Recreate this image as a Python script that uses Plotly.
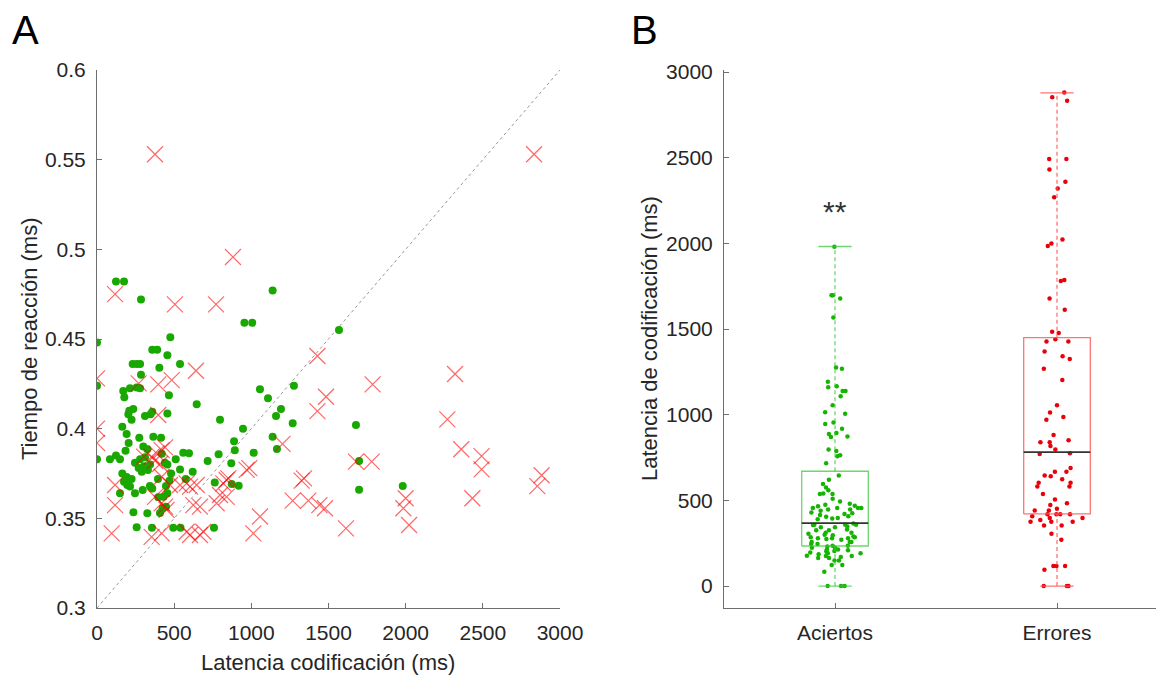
import plotly.graph_objects as go

# ---------------- Panel A data ----------------
# Aciertos (green dots): latency (ms), reaction time
hit_latency = [123, 175, 285, 1138, 955, 1006, 0, 475, 358, 390, 456, 231, 257, 279, 538, 404, 285, 0,
               1056, 170, 214, 257, 279, 177, 466, 1108, 646, 209, 235, 203, 311, 347, 358, 456, 797,
               1192, 1160, 224, 164, 946, 192, 274, 365, 205, 300, 326, 1138, 888, 893, 1166, 185, 0,
               84, 123, 149, 279, 311, 559, 596, 788, 1015, 246, 270, 290, 305, 330, 344, 456, 538,
               717, 870, 164, 192, 224, 175, 196, 214, 149, 246, 296, 343, 358, 469, 447, 456, 397,
               408, 425, 873, 918, 236, 326, 257, 356, 494, 541, 758, 447, 1568, 1276, 1268, 1678,
               1698, 1698, 1981, 763, 420, 440, 395, 430, 480, 510, 620, 575, 415]
hit_rt = [0.482, 0.482, 0.472, 0.477, 0.459, 0.459, 0.448, 0.451, 0.444, 0.444, 0.441, 0.436, 0.436,
          0.436, 0.436, 0.434, 0.430, 0.424, 0.422, 0.421, 0.4225, 0.423, 0.4225, 0.4175, 0.4186,
          0.417, 0.4136, 0.410, 0.411, 0.408, 0.407, 0.408, 0.4095, 0.4085, 0.405, 0.411, 0.407,
          0.405, 0.401, 0.400, 0.397, 0.395, 0.3955, 0.392, 0.390, 0.3885, 0.3955, 0.393, 0.388,
          0.3886, 0.3877, 0.383, 0.383, 0.385, 0.383, 0.383, 0.384, 0.3866, 0.3863, 0.3857, 0.3866,
          0.381, 0.378, 0.376, 0.379, 0.377, 0.380, 0.380, 0.3773, 0.382, 0.3807, 0.375, 0.373,
          0.372, 0.3704, 0.3686, 0.3677, 0.364, 0.364, 0.3658, 0.368, 0.3667, 0.371, 0.368, 0.364,
          0.3617, 0.353, 0.3556, 0.3692, 0.3682, 0.3534, 0.3528, 0.345, 0.3448, 0.3448, 0.3448,
          0.3448, 0.3565, 0.455, 0.424, 0.403, 0.402, 0.382, 0.366, 0.368, 0.370, 0.386, 0.381,
          0.372, 0.362, 0.375, 0.383, 0.376, 0.372, 0.395]

# Errores (red crosses): latency (ms), reaction time
err_latency = [376, 2832, 881, 117, 505, 771, 0, 270, 397, 484, 641, 1428, 1786, 1484, 1428, 2320,
               2270, 2360, 2492, 2492, 2881, 2853, 2432, 2000, 1985, 2022, 1202, 1341, 1326, 1268,
               1369, 1441, 1477, 1613, 1678, 1780, 0, 0, 397, 305, 354, 386, 419, 441, 376, 408, 117,
               117, 95, 376, 419, 441, 451, 419, 473, 538, 581, 603, 646, 624, 667, 354, 419, 581,
               603, 667, 987, 970, 840, 818, 851, 797, 840, 775, 1056, 1013, 689]
err_rt = [0.553, 0.553, 0.4957, 0.475, 0.4693, 0.4693, 0.428, 0.4253, 0.4247, 0.4271, 0.4323, 0.4405,
          0.4247, 0.4178, 0.4098, 0.4305, 0.4052, 0.3885, 0.3847, 0.3773, 0.374, 0.368, 0.3612,
          0.3612, 0.3556, 0.3463, 0.3915, 0.3723, 0.371, 0.3599, 0.3599, 0.3574, 0.3556, 0.3444,
          0.3816, 0.3816, 0.400, 0.392, 0.4076, 0.3844, 0.3844, 0.3862, 0.388, 0.3896, 0.3821,
          0.3803, 0.3686, 0.3574, 0.3416, 0.362, 0.3584, 0.3565, 0.3547, 0.3732, 0.3686, 0.3686,
          0.3695, 0.3677, 0.3686, 0.3574, 0.3565, 0.3397, 0.3416, 0.3425, 0.3407, 0.3407, 0.378,
          0.377, 0.3714, 0.3695, 0.3723, 0.363, 0.362, 0.3584, 0.351, 0.3416, 0.3425]

xa_range = [0, 3000]
ya_range = [0.3, 0.6]
xa_ticks = [0, 500, 1000, 1500, 2000, 2500, 3000]
ya_ticks = [0.3, 0.35, 0.4, 0.45, 0.5, 0.55, 0.6]
ya_ticktext = ["0.3", "0.35", "0.4", "0.45", "0.5", "0.55", "0.6"]

# ---------------- Panel B data ----------------
groups = ["Aciertos", "Errores"]
group_pos = [1, 2]
box_q1 = [234, 421]
box_median = [367, 782]
box_q3 = [670, 1450]
box_low = [0, 0]
box_high = [1982, 2878]
yb_ticks = [0, 500, 1000, 1500, 2000, 2500, 3000]
signif_label = "**"
signif_y = 2185

GREEN = "#18a800"
RED_X = "rgba(255,0,0,0.6)"
GREEN_B = "#14b400"
RED_B = "#e8000a"
BOX_GREEN = "rgba(60,200,60,0.75)"
BOX_RED = "rgba(255,90,90,0.85)"
AXIS = "#6e6e6e"
TXT = "#262626"
FONT = "Liberation Sans, Arial, sans-serif"

# page has an 8px body margin: figure is sized/positioned to compensate
OFF = 8
W, H = 1164 - OFF, 678 - OFF


def px(x):
    return (x - OFF) / W


def py(y):
    return 1 - (y - OFF) / H


fig = go.Figure()

# Panel A
fig.add_trace(go.Scatter(x=xa_range, y=ya_range, mode="lines",
                         line=dict(color="#8a8a8a", width=0.9, dash="3px,3px"),
                         xaxis="x", yaxis="y", showlegend=False, hoverinfo="skip"))
fig.add_trace(go.Scatter(x=hit_latency, y=hit_rt, mode="markers",
                         marker=dict(color=GREEN, size=8, line=dict(width=0)),
                         xaxis="x", yaxis="y", showlegend=False))
fig.add_trace(go.Scatter(x=err_latency, y=err_rt, mode="markers",
                         marker=dict(symbol="x-thin", size=16, color=RED_X,
                                     line=dict(color=RED_X, width=1.2)),
                         xaxis="x", yaxis="y", showlegend=False))

# Panel B boxes (drawn from stats)
hw, cw = 0.15, 0.075
box_cols = [BOX_GREEN, BOX_RED]
for i, c in enumerate(group_pos):
    col = box_cols[i]
    fig.add_trace(go.Scatter(x=[c, c], y=[box_q3[i], box_high[i]], mode="lines",
                             line=dict(color=col, width=1.3, dash="4px,3px"),
                             xaxis="x2", yaxis="y2", showlegend=False, hoverinfo="skip"))
    fig.add_trace(go.Scatter(x=[c, c], y=[box_low[i], box_q1[i]], mode="lines",
                             line=dict(color=col, width=1.3, dash="4px,3px"),
                             xaxis="x2", yaxis="y2", showlegend=False, hoverinfo="skip"))
    fig.add_trace(go.Scatter(x=[c - cw, c + cw], y=[box_high[i], box_high[i]], mode="lines",
                             line=dict(color=col, width=1.3),
                             xaxis="x2", yaxis="y2", showlegend=False, hoverinfo="skip"))
    fig.add_trace(go.Scatter(x=[c - cw, c + cw], y=[box_low[i], box_low[i]], mode="lines",
                             line=dict(color=col, width=1.3),
                             xaxis="x2", yaxis="y2", showlegend=False, hoverinfo="skip"))
    fig.add_trace(go.Scatter(x=[c - hw, c + hw, c + hw, c - hw, c - hw],
                             y=[box_q1[i], box_q1[i], box_q3[i], box_q3[i], box_q1[i]],
                             mode="lines", line=dict(color=col, width=1.3),
                             xaxis="x2", yaxis="y2", showlegend=False, hoverinfo="skip"))
    fig.add_trace(go.Scatter(x=[c - hw, c + hw], y=[box_median[i], box_median[i]], mode="lines",
                             line=dict(color="#333333", width=1.8),
                             xaxis="x2", yaxis="y2", showlegend=False, hoverinfo="skip"))

# Panel B jittered points (library jitter)
for vals, c, col in [(hit_latency, group_pos[0], GREEN_B), (err_latency, group_pos[1], RED_B)]:
    fig.add_trace(go.Box(x=[c] * len(vals), y=vals, boxpoints="all", jitter=1, pointpos=0,
                         width=0.26, fillcolor="rgba(0,0,0,0)",
                         line=dict(width=0, color="rgba(0,0,0,0)"), whiskerwidth=0,
                         marker=dict(color=col, size=4.5, line=dict(width=0)),
                         xaxis="x2", yaxis="y2", showlegend=False))

ax_common = dict(showline=True, linecolor=AXIS, linewidth=1, ticks="inside", ticklen=5,
                 tickcolor=AXIS, tickwidth=1, showgrid=False, zeroline=False, mirror=False,
                 tickfont=dict(family=FONT, size=21, color=TXT), automargin=False)

fig.update_layout(
    width=W, height=H, margin=dict(l=0, r=0, t=0, b=0),
    paper_bgcolor="white", plot_bgcolor="white", boxmode="overlay",
    xaxis=dict(domain=[px(97), px(560)], range=xa_range, tickvals=xa_ticks, anchor="y",
               ticklabelstandoff=6, **ax_common),
    yaxis=dict(domain=[py(608), py(70)], range=ya_range, tickvals=ya_ticks,
               ticktext=ya_ticktext, anchor="x", ticklabelstandoff=6, **ax_common),
    xaxis2=dict(domain=[px(724), 1.0], range=[0.5, 0.5 + 440 / 222], tickvals=group_pos,
                ticktext=groups, anchor="y2", ticklabelstandoff=6, **ax_common),
    yaxis2=dict(domain=[py(608), py(70)], range=[-128, 3012], tickvals=yb_ticks,
                anchor="x2", ticklabelstandoff=6, **ax_common),
    font=dict(family=FONT, color=TXT),
    annotations=[
        dict(text="A", x=px(25), y=py(30), xref="paper", yref="paper", showarrow=False,
             xanchor="center", yanchor="middle", font=dict(size=40, color="black", family=FONT)),
        dict(text="B", x=px(645), y=py(30), xref="paper", yref="paper", showarrow=False,
             xanchor="center", yanchor="middle", font=dict(size=40, color="black", family=FONT)),
        dict(text="Tiempo de reacción (ms)", x=px(30), y=py(339), xref="paper", yref="paper",
             showarrow=False, textangle=-90, xanchor="center", yanchor="middle",
             font=dict(size=22, color=TXT, family=FONT)),
        dict(text="Latencia codificación (ms)", x=px(328), y=py(662), xref="paper",
             yref="paper", showarrow=False, xanchor="center", yanchor="middle",
             font=dict(size=22, color=TXT, family=FONT)),
        dict(text="Latencia de codificación (ms)", x=px(650), y=py(339), xref="paper",
             yref="paper", showarrow=False, textangle=-90, xanchor="center", yanchor="middle",
             font=dict(size=22, color=TXT, family=FONT)),
        dict(text=signif_label, x=group_pos[0], y=signif_y, xref="x2", yref="y2", showarrow=False,
             xanchor="center", yanchor="middle",
             font=dict(size=30, color="#333333", family=FONT)),
    ],
)

fig.write_html("out.html")
